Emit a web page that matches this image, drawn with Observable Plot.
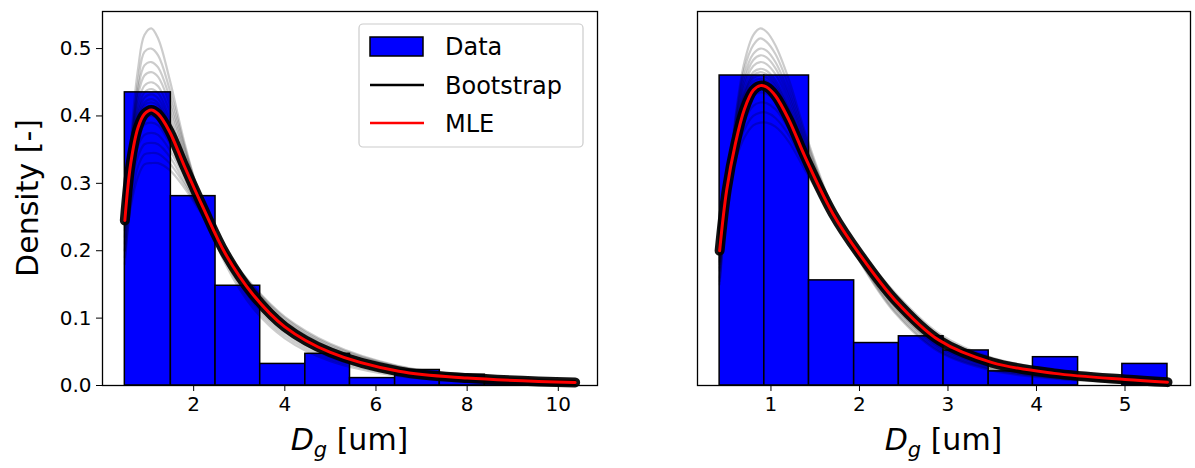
<!DOCTYPE html>
<html><head><meta charset="utf-8">
<script src="https://cdn.jsdelivr.net/npm/d3@7"></script>
<script src="https://cdn.jsdelivr.net/npm/@observablehq/plot@0.6"></script>
<style>
body{margin:0;background:#fff;}
#wrap{position:relative;width:1195px;height:468px;font-family:"DejaVu Sans",sans-serif;}
#wrap svg{position:absolute;top:0;overflow:visible}
</style></head><body><div id="wrap"></div>
<script>
// ---------- Left panel data ----------
const edgesL = [0.49, 1.50, 2.48, 3.46, 4.45, 5.43, 6.42, 7.40, 8.39, 9.38, 10.37];
const heightsL = [0.435, 0.281, 0.148, 0.032, 0.047, 0.011, 0.023, 0.016, 0.008, 0.006];
const gridL = [0.49, 0.62, 0.78, 0.92, 1.07, 1.22, 1.47, 1.8, 2.2, 2.7, 3.3, 4.0, 5.0, 6.5, 8.0, 10.37];
const mleL = [0.245, 0.33, 0.383, 0.403, 0.409, 0.403, 0.377, 0.325, 0.265, 0.195, 0.135, 0.087, 0.049, 0.021, 0.011, 0.0045];
const bootL = [
  [0.20, 0.36, 0.47, 0.52, 0.53, 0.515, 0.455, 0.36, 0.265, 0.18, 0.115, 0.07, 0.036, 0.014, 0.006, 0.002],
  [0.21, 0.35, 0.45, 0.495, 0.50, 0.49, 0.44, 0.355, 0.268, 0.185, 0.12, 0.074, 0.039, 0.016, 0.007, 0.0025],
  [0.22, 0.35, 0.44, 0.475, 0.48, 0.472, 0.428, 0.35, 0.268, 0.188, 0.124, 0.078, 0.042, 0.017, 0.008, 0.003],
  [0.23, 0.345, 0.43, 0.46, 0.465, 0.458, 0.418, 0.345, 0.268, 0.19, 0.127, 0.08, 0.044, 0.018, 0.009, 0.0035],
  [0.235, 0.34, 0.42, 0.445, 0.45, 0.444, 0.408, 0.34, 0.266, 0.193, 0.13, 0.083, 0.046, 0.019, 0.0095, 0.0037],
  [0.24, 0.34, 0.41, 0.435, 0.44, 0.434, 0.398, 0.335, 0.266, 0.195, 0.132, 0.085, 0.047, 0.020, 0.010, 0.004],
  [0.243, 0.339, 0.404, 0.427, 0.432, 0.426, 0.392, 0.331, 0.265, 0.196, 0.133, 0.086, 0.048, 0.0205, 0.0105, 0.0042],
  [0.245, 0.338, 0.398, 0.42, 0.425, 0.419, 0.387, 0.328, 0.264, 0.196, 0.134, 0.087, 0.049, 0.021, 0.011, 0.0043],
  [0.248, 0.337, 0.394, 0.416, 0.42, 0.415, 0.382, 0.325, 0.263, 0.197, 0.135, 0.0875, 0.0495, 0.0215, 0.0112, 0.0045],
  [0.25, 0.336, 0.39, 0.411, 0.415, 0.41, 0.378, 0.322, 0.262, 0.197, 0.136, 0.088, 0.050, 0.022, 0.0115, 0.0047],
  [0.252, 0.333, 0.384, 0.404, 0.408, 0.403, 0.372, 0.319, 0.262, 0.198, 0.138, 0.09, 0.051, 0.0225, 0.0118, 0.0048],
  [0.255, 0.33, 0.378, 0.397, 0.40, 0.396, 0.367, 0.316, 0.261, 0.199, 0.139, 0.091, 0.052, 0.023, 0.012, 0.005],
  [0.26, 0.325, 0.37, 0.387, 0.39, 0.386, 0.36, 0.312, 0.259, 0.2, 0.141, 0.093, 0.054, 0.024, 0.013, 0.0055],
  [0.24, 0.31, 0.356, 0.372, 0.375, 0.372, 0.35, 0.308, 0.258, 0.2, 0.143, 0.095, 0.056, 0.025, 0.0135, 0.006],
  [0.20, 0.29, 0.34, 0.358, 0.36, 0.358, 0.34, 0.302, 0.256, 0.2, 0.145, 0.097, 0.058, 0.027, 0.014, 0.0065],
  [0.18, 0.27, 0.325, 0.343, 0.345, 0.344, 0.33, 0.298, 0.254, 0.2, 0.147, 0.10, 0.06, 0.028, 0.015, 0.007],
  [0.19, 0.265, 0.31, 0.328, 0.33, 0.33, 0.32, 0.293, 0.252, 0.2, 0.148, 0.102, 0.062, 0.029, 0.016, 0.0075]
];
const ticksL = [2, 4, 6, 8, 10];

// ---------- Right panel data ----------
const edgesR = [0.42, 0.925, 1.43, 1.94, 2.445, 2.95, 3.46, 3.96, 4.47, 4.97, 5.48];
const heightsR = [0.46, 0.46, 0.156, 0.063, 0.073, 0.052, 0.021, 0.042, 0.0, 0.032];
const gridR = [0.42, 0.5, 0.6, 0.7, 0.8, 0.88, 0.95, 1.05, 1.2, 1.4, 1.7, 2.0, 2.4, 2.9, 3.5, 4.2, 5.0, 5.48];
const mleR = [0.20, 0.29, 0.36, 0.41, 0.438, 0.445, 0.443, 0.43, 0.395, 0.335, 0.255, 0.195, 0.127, 0.067, 0.034, 0.018, 0.009, 0.005];
const bootR = [
  [0.15, 0.27, 0.40, 0.48, 0.52, 0.53, 0.525, 0.505, 0.455, 0.37, 0.262, 0.185, 0.108, 0.05, 0.022, 0.01, 0.004, 0.002],
  [0.155, 0.275, 0.395, 0.47, 0.505, 0.515, 0.51, 0.492, 0.445, 0.365, 0.26, 0.186, 0.11, 0.052, 0.024, 0.011, 0.0045, 0.0025],
  [0.16, 0.28, 0.39, 0.46, 0.492, 0.50, 0.497, 0.48, 0.436, 0.36, 0.259, 0.188, 0.113, 0.055, 0.025, 0.012, 0.005, 0.003],
  [0.17, 0.28, 0.385, 0.452, 0.483, 0.49, 0.487, 0.471, 0.429, 0.356, 0.258, 0.19, 0.116, 0.057, 0.027, 0.013, 0.0055, 0.003],
  [0.175, 0.285, 0.38, 0.445, 0.474, 0.48, 0.477, 0.462, 0.422, 0.352, 0.257, 0.191, 0.118, 0.059, 0.028, 0.014, 0.006, 0.0035],
  [0.18, 0.285, 0.375, 0.437, 0.465, 0.47, 0.467, 0.453, 0.415, 0.348, 0.256, 0.192, 0.12, 0.061, 0.03, 0.015, 0.0065, 0.004],
  [0.183, 0.285, 0.372, 0.433, 0.46, 0.465, 0.462, 0.448, 0.411, 0.346, 0.256, 0.193, 0.121, 0.062, 0.0305, 0.0155, 0.007, 0.004],
  [0.185, 0.285, 0.37, 0.43, 0.456, 0.46, 0.457, 0.444, 0.408, 0.344, 0.256, 0.193, 0.122, 0.063, 0.031, 0.016, 0.007, 0.004],
  [0.188, 0.286, 0.367, 0.425, 0.451, 0.455, 0.452, 0.44, 0.404, 0.342, 0.256, 0.194, 0.123, 0.064, 0.032, 0.0165, 0.0075, 0.0042],
  [0.19, 0.287, 0.365, 0.42, 0.446, 0.45, 0.447, 0.435, 0.40, 0.34, 0.256, 0.195, 0.125, 0.065, 0.033, 0.017, 0.008, 0.0045],
  [0.195, 0.288, 0.362, 0.413, 0.438, 0.443, 0.44, 0.428, 0.395, 0.336, 0.255, 0.196, 0.127, 0.066, 0.034, 0.018, 0.0085, 0.0048],
  [0.20, 0.29, 0.358, 0.405, 0.43, 0.435, 0.433, 0.422, 0.39, 0.333, 0.255, 0.197, 0.129, 0.068, 0.035, 0.019, 0.009, 0.005],
  [0.205, 0.29, 0.35, 0.393, 0.415, 0.42, 0.419, 0.41, 0.381, 0.327, 0.254, 0.198, 0.132, 0.071, 0.037, 0.02, 0.01, 0.0055],
  [0.21, 0.288, 0.342, 0.38, 0.40, 0.405, 0.405, 0.397, 0.372, 0.322, 0.253, 0.20, 0.135, 0.074, 0.039, 0.021, 0.011, 0.006],
  [0.22, 0.287, 0.335, 0.368, 0.386, 0.39, 0.39, 0.384, 0.362, 0.316, 0.252, 0.201, 0.138, 0.077, 0.041, 0.023, 0.012, 0.0065]
];
const ticksR = [1, 2, 3, 4, 5];

const yTicks = [0, 0.1, 0.2, 0.3, 0.4, 0.5];
const legendLabels = ["Data", "Bootstrap", "MLE"];
const xLabelMain = "D", xLabelSub = "g", xLabelUnit = " [um]";
const yLabel = "Density [-]";

const BLUE = "#0000ff", RED = "#ff0000";
const FONT = "DejaVu Sans";

function panel({edges, heights, grid, mle, boots, xDomain, xTicks, width, ml, mr, showY}) {
  const bins = heights.map((h, i) => ({x1: edges[i], x2: edges[i + 1], y: h}));
  const mleData = grid.map((x, i) => ({x, y: mle[i]}));
  const bootData = boots.flatMap((b, k) => grid.map((x, i) => ({k, x, y: b[i]})));
  return Plot.plot({
    width, height: 468,
    marginLeft: ml, marginRight: mr, marginTop: 11, marginBottom: 83,
    style: {fontFamily: FONT, fontSize: "20px", color: "black", background: "transparent", overflow: "visible"},
    x: {domain: xDomain, axis: null},
    y: {domain: [0, 0.555], axis: null},
    marks: [
      Plot.rectY(bins, {x1: "x1", x2: "x2", y: "y", fill: BLUE, stroke: "black", strokeWidth: 1.5}),
      Plot.line(bootData, {x: "x", y: "y", z: "k", stroke: "black", strokeOpacity: 0.2, strokeWidth: 2.2, curve: "catmull-rom"}),
      Plot.line(mleData, {x: "x", y: "y", stroke: "black", strokeOpacity: 0.92, strokeWidth: 10, curve: "catmull-rom"}),
      Plot.line(mleData, {x: "x", y: "y", stroke: RED, strokeWidth: 3, curve: "catmull-rom"}),
      Plot.frame({stroke: "black", strokeWidth: 1.3}),
      Plot.axisX({ticks: xTicks, tickFormat: d => String(d), tickSize: 6, tickPadding: 5, label: null, fontSize: 20}),
      showY ? Plot.axisY({ticks: yTicks, tickFormat: ".1f", tickSize: 6, tickPadding: 5, label: null, fontSize: 20}) : null
    ]
  });
}

function addXLabel(svg, cx) {
  const t = d3.select(svg).append("text")
    .attr("x", cx).attr("y", 450).attr("text-anchor", "middle")
    .attr("font-family", FONT).attr("font-size", 30).attr("fill", "black");
  t.append("tspan").attr("font-style", "italic").text(xLabelMain);
  t.append("tspan").attr("font-style", "italic").attr("font-size", 21).attr("dy", 7).text(xLabelSub);
  t.append("tspan").attr("dy", -7).text(xLabelUnit);
}

const wrap = document.getElementById("wrap");

const left = panel({edges: edgesL, heights: heightsL, grid: gridL, mle: mleL, boots: bootL,
  xDomain: [0.0, 10.86], xTicks: ticksL, width: 600, ml: 102, mr: 3, showY: true});
left.style.left = "0px";
wrap.appendChild(left);

const right = panel({edges: edgesR, heights: heightsR, grid: gridR, mle: mleR, boots: bootR,
  xDomain: [0.17, 5.74], xTicks: ticksR, width: 595, ml: 97, mr: 5, showY: false});
right.style.left = "600px";
wrap.appendChild(right);

addXLabel(left, 349.5);
addXLabel(right, 97 + (595 - 97 - 5) / 2);

// y label
d3.select(left).append("text")
  .attr("transform", "translate(38,198) rotate(-90)")
  .attr("text-anchor", "middle")
  .attr("font-family", FONT).attr("font-size", 30).attr("fill", "black")
  .text(yLabel);

// legend
const lg = d3.select(left).append("g").attr("text-anchor", "start");
lg.append("rect").attr("x", 359).attr("y", 24).attr("width", 224).attr("height", 123)
  .attr("rx", 4).attr("fill", "white").attr("fill-opacity", 0.8).attr("stroke", "#cccccc").attr("stroke-width", 1.2);
lg.append("rect").attr("x", 370).attr("y", 37).attr("width", 53).attr("height", 19)
  .attr("fill", BLUE).attr("stroke", "black").attr("stroke-width", 1.5);
lg.append("line").attr("x1", 370).attr("x2", 424).attr("y1", 85).attr("y2", 85)
  .attr("stroke", "black").attr("stroke-width", 2.5);
lg.append("line").attr("x1", 370).attr("x2", 424).attr("y1", 123).attr("y2", 123)
  .attr("stroke", RED).attr("stroke-width", 2.5);
[[55, legendLabels[0]], [94, legendLabels[1]], [132, legendLabels[2]]].forEach(([y, s]) => {
  lg.append("text").attr("x", 445).attr("y", y).attr("text-anchor", "start")
    .attr("font-family", FONT).attr("font-size", 24)
    .attr("fill", "black").text(s);
});
</script>
</body></html>
